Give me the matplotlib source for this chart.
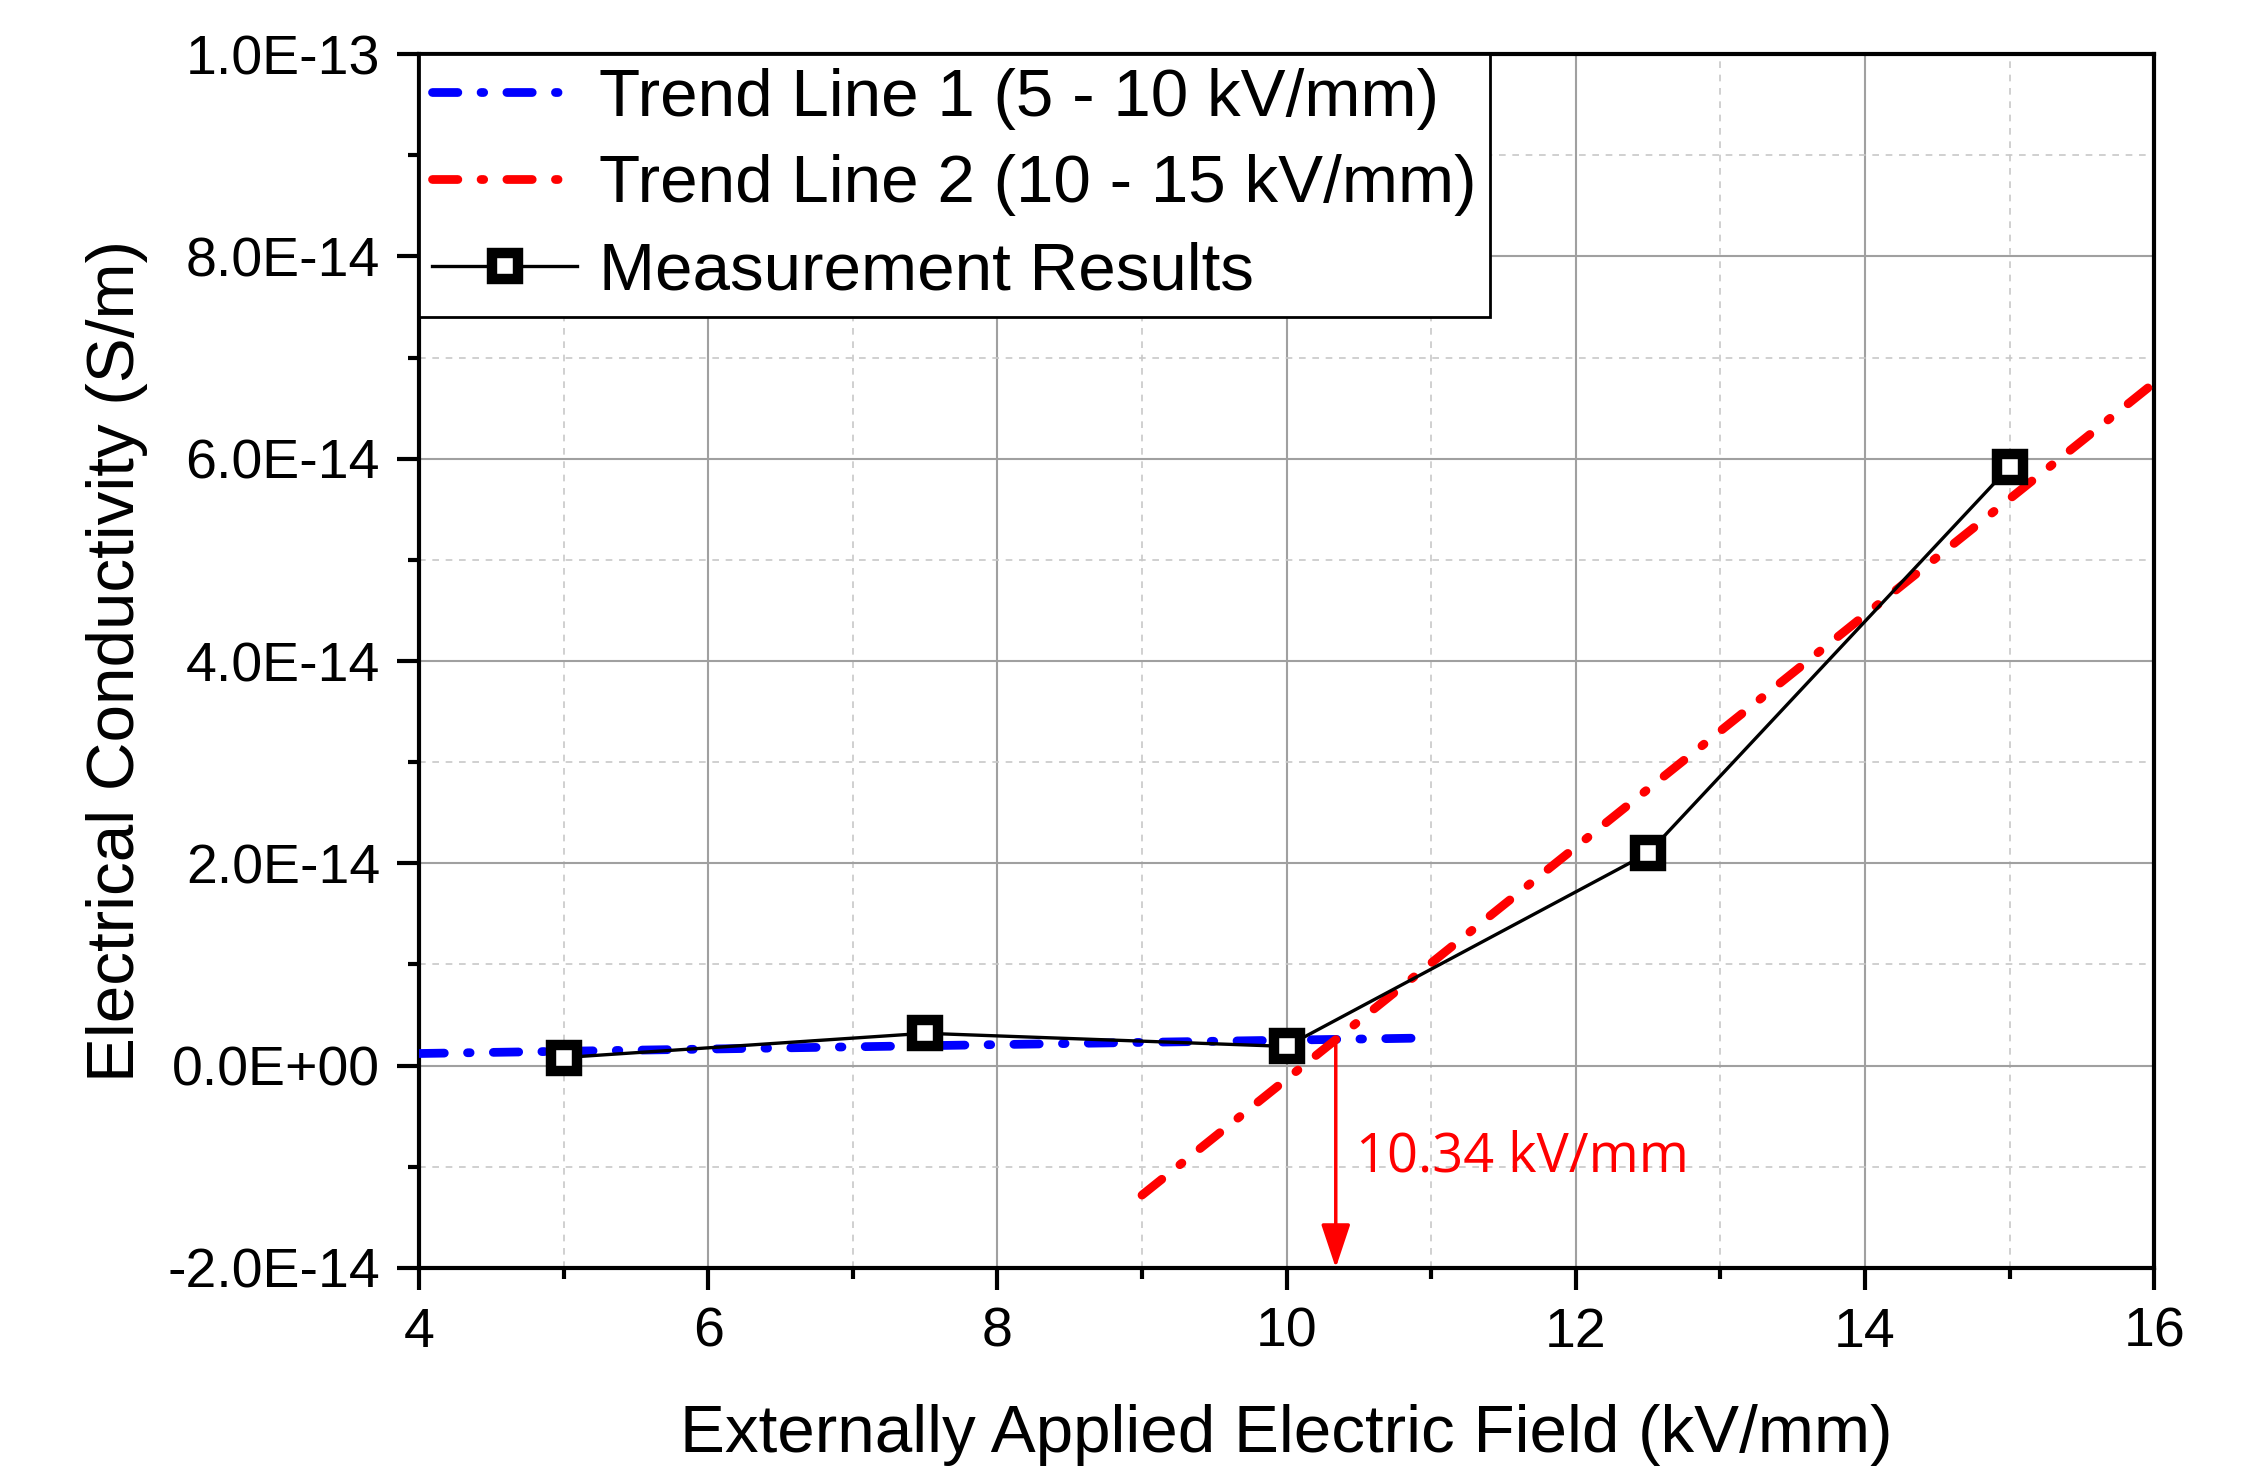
import matplotlib
matplotlib.use("Agg")
import matplotlib.pyplot as plt
from matplotlib.ticker import MultipleLocator, FuncFormatter

# ---- data ----
field = [5, 7.5, 10, 12.5, 15]                     # kV/mm
conductivity = [0.8e-15, 3.2e-15, 1.9e-15, 2.10e-14, 5.92e-14]  # S/m

trend1_x = [4, 11]
trend1_y = [1.2e-15, 2.74e-15]
trend2_x = [9, 16]
trend2_y = [-1.28e-14, 6.75e-14]

cross_x = 10.34
cross_y = 2.3e-15
cross_label = "10.34 kV/mm"

legend_labels = ["Trend Line 1 (5 - 10 kV/mm)", "Trend Line 2 (10 - 15 kV/mm)", "Measurement Results"]
xlabel = "Externally Applied Electric Field (kV/mm)"
ylabel = "Electrical Conductivity (S/m)"

plt.rcParams['font.family'] = ['Liberation Sans', 'DejaVu Sans']

fig = plt.figure(figsize=(22.44, 14.73), dpi=100)
ax = fig.add_axes([0.1867, 0.1392, 0.9600 - 0.1867, 0.9633 - 0.1392])

dash = (0, (2.9, 2.65, 0.3, 2.65))
l1, = ax.plot(trend1_x, trend1_y, color='#0000ff', lw=6.3, linestyle=dash,
              dash_capstyle='round', zorder=3, label=legend_labels[0])
l2, = ax.plot(trend2_x, trend2_y, color='#ff0000', lw=6.3, linestyle=dash,
              dash_capstyle='round', zorder=3, label=legend_labels[1])
l3, = ax.plot(field, conductivity, color='black', lw=2.4, marker='s', ms=19,
              mfc='white', mec='black', mew=7.5, zorder=4, label=legend_labels[2])

ax.annotate("", xy=(cross_x, -2e-14), xytext=(cross_x, cross_y),
            arrowprops=dict(arrowstyle='-|>,head_width=0.3,head_length=0.9', color='#ff0000', lw=2.5,
                            mutation_scale=30, shrinkA=0, shrinkB=0), zorder=5)
ax.text(10.48, -0.9e-14, cross_label, color='#ff0000', fontsize=39,
        family=['Open Sans', 'DejaVu Sans'], va='center', ha='left', zorder=5)

ax.set_xlim(4, 16)
ax.set_ylim(-2e-14, 1e-13)
ax.xaxis.set_major_locator(MultipleLocator(2))
ax.xaxis.set_minor_locator(MultipleLocator(1))
ax.yaxis.set_major_locator(MultipleLocator(2e-14))
ax.yaxis.set_minor_locator(MultipleLocator(1e-14))

def yfmt(v, pos):
    if abs(v) < 1e-20:
        return "0.0E+00"
    return "%.1E" % v
ax.yaxis.set_major_formatter(FuncFormatter(yfmt))

ax.grid(which='major', color='#a0a0a0', lw=1.5, ls='-', zorder=0)
ax.grid(which='minor', color='#c8c8c8', lw=1.2, ls=(0, (4, 4)), zorder=0)
ax.set_axisbelow(True)

for s in ax.spines.values():
    s.set_linewidth(3.0)
ax.tick_params(which='major', direction='out', length=16, width=3.0, labelsize=40, pad=12,
               top=False, right=False)
ax.tick_params(which='minor', direction='out', length=8, width=3.0, top=False, right=False)

ax.set_xlabel(xlabel, fontsize=48.5)
ax.set_ylabel(ylabel, fontsize=48.5)
ax.xaxis.set_label_coords(0.5, -0.1376)
ax.yaxis.set_label_coords(-0.174, 0.5)
ax.xaxis.label.set_va('center')
ax.yaxis.label.set_va('center')

leg = ax.legend(handles=[l1, l2, l3], loc='upper left', fontsize=48.5, frameon=True,
                fancybox=False, edgecolor='black', framealpha=1, borderaxespad=0,
                handlelength=2.15, handletextpad=0.32, borderpad=0.2, labelspacing=0.37)
leg.get_frame().set_linewidth(2)
leg.set_zorder(10)

fig.savefig("out.png", dpi=100, facecolor='white')
